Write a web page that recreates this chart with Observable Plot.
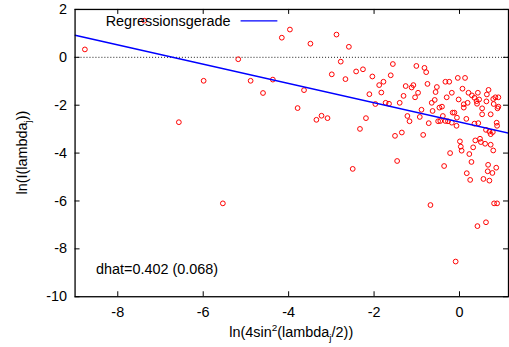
<!DOCTYPE html>
<html>
<head>
<meta charset="utf-8">
<script src="https://cdn.jsdelivr.net/npm/d3@7"></script>
<script src="https://cdn.jsdelivr.net/npm/@observablehq/plot@0.6"></script>
<style>
  html, body { margin: 0; padding: 0; background: #fff; overflow: hidden; }
  #chart { width: 509px; height: 347px; overflow: hidden; }
</style>
</head>
<body>
<div id="chart"></div>
<script>
// ---- data ----
const pointX = [
  -8.77, -7.38, -6.57, -5.99, -5.54, -5.18, -4.89, -4.60, -4.37, -4.16,
  -3.97, -3.79, -3.64, -3.49, -3.35, -3.23, -3.09, -2.99, -2.88, -2.78,
  -2.67, -2.59, -2.50, -2.42, -2.33, -2.26, -2.19, -2.11, -2.04, -1.97,
  -1.88, -1.83, -1.78, -1.73, -1.65, -1.61, -1.56, -1.51, -1.46, -1.40,
  -1.35, -1.31, -1.26, -1.22, -1.17, -1.12, -1.08, -1.04, -1.01, -0.97,
  -0.93, -0.89, -0.85, -0.82, -0.78, -0.75, -0.72, -0.68, -0.65, -0.63,
  -0.58, -0.56, -0.53, -0.50, -0.47, -0.45, -0.41, -0.39, -0.36, -0.33,
  -0.33, -0.30, -0.27, -0.24, -0.22, -0.18, -0.18, -0.16, -0.12, -0.09,
  -0.07, -0.06, -0.04, -0.02, 0.01, 0.03, 0.05, 0.07, 0.10, 0.10,
  0.13, 0.16, 0.17, 0.19, 0.21, 0.23, 0.25, 0.28, 0.29, 0.32,
  0.35, 0.35, 0.37, 0.40, 0.41, 0.42, 0.43, 0.44, 0.46, 0.48,
  0.50, 0.53, 0.53, 0.56, 0.60, 0.62, 0.62, 0.63, 0.64, 0.66,
  0.67, 0.68, 0.70, 0.70, 0.73, 0.73, 0.73, 0.77, 0.78, 0.79,
  0.79, 0.80, 0.81, 0.84, 0.86, 0.87, 0.88, 0.88, 0.89, 0.91,
  0.91
];
const pointY = [
  0.33, 1.53, -2.71, -0.98, -6.10, -0.08, -0.98, -1.49, -0.93, 0.82,
  1.16, -2.12, -1.37, 0.57, -2.61, -2.44, -2.54, -0.71, 0.95, -0.18,
  -0.91, 0.44, -4.66, -0.59, -2.99, -0.50, -2.54, -1.54, -0.80, -1.95,
  -1.16, -1.47, -1.02, -1.90, -1.94, -0.75, -0.28, -3.28, -4.33, -1.90,
  -3.14, -1.61, -1.20, -2.45, -2.67, -1.26, -1.16, -1.67, -0.36, -1.48,
  -2.49, -2.19, -3.24, -0.44, -0.62, -1.11, -2.75, -6.17, -1.90, -2.24,
  -1.78, -1.45, -1.24, -2.67, -2.10, -2.66, -2.06, -2.45, -4.54, -1.02,
  -2.66, -1.67, -2.67, -1.02, -4.00, -1.48, -2.73, -2.31, -2.31, -8.53,
  -2.86, -2.52, -0.86, -1.76, -3.51, -3.73, -3.90, -1.31, -1.96, -2.10,
  -0.86, -2.57, -4.84, -1.90, -1.48, -4.04, -5.12, -4.37, -1.59, -3.76,
  -1.69, -2.77, -3.47, -1.83, -1.94, -7.05, -1.48, -2.75, -1.76, -3.40,
  -3.54, -2.13, -2.38, -5.08, -3.61, -3.03, -6.89, -1.84, -1.55, -4.76,
  -4.49, -1.36, -3.10, -5.15, -2.38, -3.21, -3.65, -4.83, -3.12, -1.74,
  -3.89, -1.95, -6.10, -1.67, -4.61, -2.73, -2.86, -6.10, -2.13, -1.67,
  -2.06
];
const xTicks = [-8, -6, -4, -2, 0];
const yTicks = [-10, -8, -6, -4, -2, 0, 2];
const xDomain = [-9, 1.147];
const yDomain = [-10, 2];
const regIntercept = -2.70;
const regSlope = -0.402;
const legendLabel = "Regressionsgerade";
const annotation = "dhat=0.402 (0.068)";

// ---- build tables ----
const points = pointX.map((x, i) => ({x, y: pointY[i]}));
const regLine = xDomain.map(x => ({x, y: regIntercept + regSlope * x}));

const W = 512, H = 347;
const mL = 75, mR = 1, mT = 9, mB = 49;
const innerW = W - mL - mR, innerH = H - mT - mB;
const tickLen = 5;
const FONT = "'Liberation Sans', Arial, Helvetica, sans-serif";
const FS = 14.5;
const fmt = d => String(d); // hyphen-minus like the reference

const chart = Plot.plot({
  width: W, height: H,
  marginLeft: mL, marginRight: mR, marginTop: mT, marginBottom: mB,
  x: {domain: xDomain},
  y: {domain: yDomain},
  style: {fontFamily: FONT, fontSize: FS + "px", color: "black", background: "white", overflow: "hidden"},
  marks: [
    Plot.ruleY([0], {stroke: "black", strokeWidth: 0.9, strokeDasharray: "1,2"}),
    Plot.dot(points, {x: "x", y: "y", r: 2.4, stroke: "#ff0000", strokeWidth: 1, fill: "none"}),
    Plot.line(regLine, {x: "x", y: "y", stroke: "#0000ff", strokeWidth: 1.5, clip: true}),
    // inward ticks
    Plot.tickX(xTicks, {x: d => d, stroke: "black", strokeWidth: 1, insetTop: innerH - tickLen}),
    Plot.tickX(xTicks, {x: d => d, stroke: "black", strokeWidth: 1, insetBottom: innerH - tickLen}),
    Plot.tickY(yTicks, {y: d => d, stroke: "black", strokeWidth: 1, insetRight: innerW - tickLen}),
    Plot.tickY(yTicks, {y: d => d, stroke: "black", strokeWidth: 1, insetLeft: innerW - tickLen}),
    Plot.axisX(xTicks, {anchor: "bottom", tickSize: 0, tickPadding: 10, label: null, tickFormat: fmt}),
    Plot.axisY(yTicks, {anchor: "left", tickSize: 0, tickPadding: 8, label: null, tickFormat: fmt}),
    Plot.frame({stroke: "black", strokeWidth: 1.3}),
    Plot.text([annotation], {text: d => d, frameAnchor: "bottom-left", textAnchor: "start", dx: 21, dy: -23, fontSize: FS})
  ]
});

document.getElementById("chart").appendChild(chart);

// ---- labels and legend ----
const svg = d3.select(chart);
const g = svg.append("g").attr("font-family", FONT).attr("font-size", FS).attr("fill", "black");

// x label
const xl = g.append("text").attr("x", mL + innerW / 2).attr("y", 339).attr("text-anchor", "middle");
xl.append("tspan").text("ln(4sin");
xl.append("tspan").attr("font-size", 10).attr("dy", -6).text("2");
xl.append("tspan").attr("font-size", FS).attr("dy", 6).text("(lambda");
xl.append("tspan").attr("font-size", 10).attr("dy", 4).text("j");
xl.append("tspan").attr("font-size", FS).attr("dy", -4).text("/2))");

// y label
const yl = g.append("text")
  .attr("transform", `translate(27,${mT + innerH / 2}) rotate(-90)`)
  .attr("text-anchor", "middle");
yl.append("tspan").text("ln(I(lambda");
yl.append("tspan").attr("font-size", 10).attr("dy", 4).text("j");
yl.append("tspan").attr("font-size", FS).attr("dy", -4).text("))");

// legend
g.append("text").attr("x", 232).attr("y", 26).attr("text-anchor", "end").text(legendLabel);
g.append("line").attr("x1", 242).attr("x2", 279).attr("y1", 21).attr("y2", 21)
  .attr("stroke", "#0000ff").attr("stroke-width", 1.5);
</script>
</body>
</html>
